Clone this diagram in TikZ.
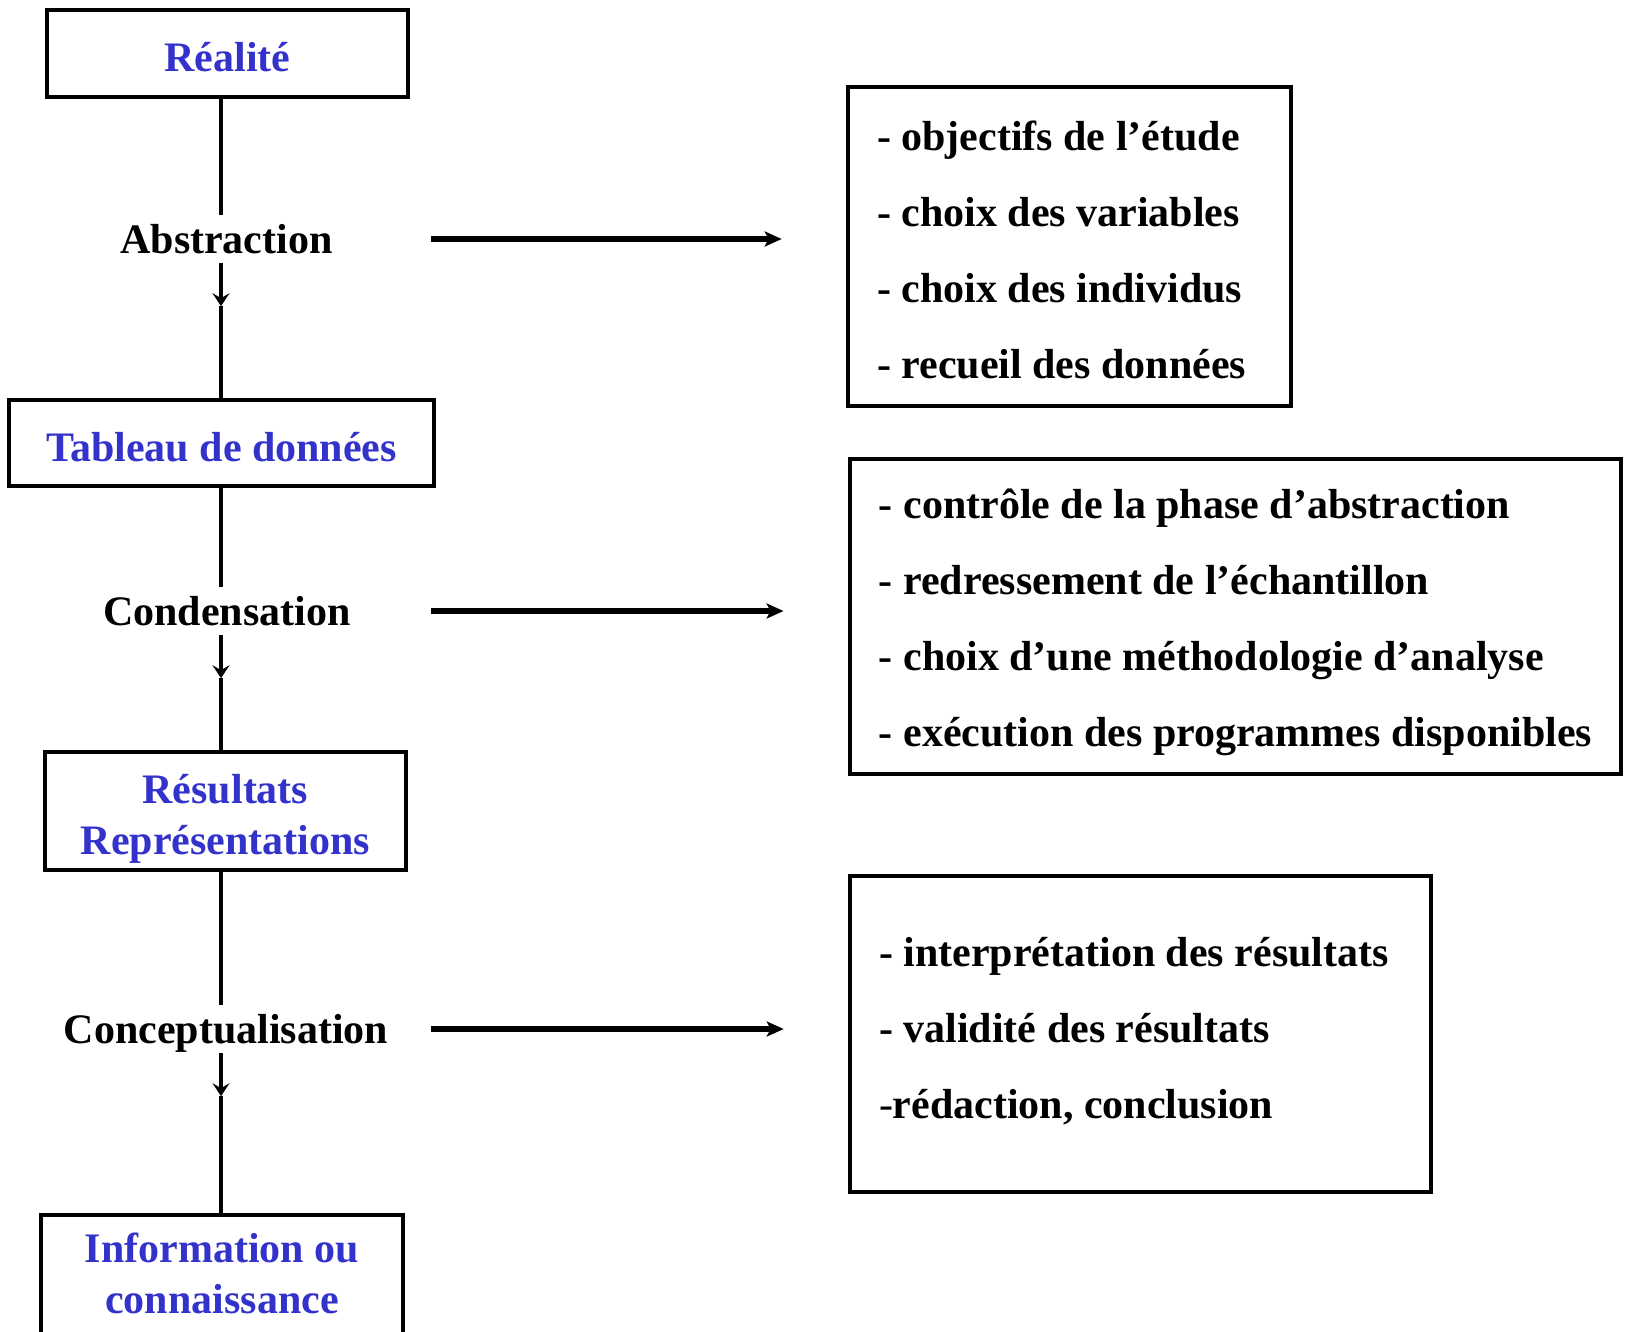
\documentclass[tikz,border=0pt]{standalone}
\usepackage{fontspec}
\setmainfont{Liberation Serif}
\usetikzlibrary{arrows.meta, positioning}
\definecolor{titleblue}{RGB}{51,51,204}

\begin{document}
\begin{tikzpicture}[
    x=1pt, y=-1pt,
    block/.style={
        rectangle,
        draw,
        line width=4.6pt,
        inner sep=4pt,
        text=titleblue,
        align=center,
        font=\bfseries\fontsize{42}{51}\selectfont
    },
    listbox/.style={
        rectangle,
        draw,
        line width=4.6pt,
        inner xsep=29pt,
        inner ysep=4pt,
        align=flush left,
        font=\bfseries\fontsize{42}{76}\selectfont
    },
    phase/.style={
        text height=28pt,
        text depth=0pt,
        inner xsep=4pt,
        inner ysep=10pt,
        font=\bfseries\fontsize{42}{51}\selectfont
    },
    link/.style={line width=4.8pt},
    flow/.style={line width=4.8pt, -{Stealth[length=13pt, width=17pt, inset=5pt]}},
    sidearrow/.style={line width=5.5pt, -{Stealth[length=17pt, width=15pt, inset=4pt]}, shorten >=64pt}
]
\useasboundingbox (0,0) rectangle (1625,1331);

% left column
\node[block, minimum width=361pt, minimum height=87pt, text height=36pt, text depth=0pt] (realite) at (227.5,53.5) {Réalité};
\node[phase] (abs) at (226.5,239) {Abstraction};
\node[block, minimum width=425pt, minimum height=86pt, text height=36pt, text depth=0pt] (tableau) at (221.5,443) {Tableau de données};
\node[phase] (cond) at (227,611) {Condensation};
\node[block, minimum width=361pt, minimum height=118pt, text height=87pt, text depth=0pt] (resultats) at (225.5,811) {Résultats\\Représentations};
\node[phase] (concept) at (226,1029) {Conceptualisation};
\node[block, minimum width=362pt, minimum height=140pt, text height=87pt, text depth=31pt] (info) at (222,1285) {Information ou\\connaissance};

% right column
\node[listbox, minimum width=443pt, minimum height=319pt, text width=385pt, text height=30pt, text depth=223pt] (objectifs) at (1069.5,246.5) {- objectifs de l’étude\\- choix des variables\\- choix des individus\\- recueil des données};
\node[listbox, minimum width=771pt, minimum height=315pt, text height=259pt, text depth=0pt] (controle) at (1235.5,616.5) {- contrôle de la phase d’abstraction\\- redressement de l’échantillon\\- choix d’une méthodologie d’analyse\\- exécution des programmes disponibles};
\node[listbox, minimum width=581pt, minimum height=316pt, text width=523pt, text height=30pt, text depth=166pt] (interp) at (1140.5,1034) {- interprétation des résultats\\- validité des résultats\\{\mdseries -}rédaction, conclusion};

\coordinate (spine) at (221,0);
\coordinate (start) at (431,0);

% vertical chain
\draw[link] (realite.south -| spine) -- (abs.north -| spine);
\path (abs.south -| spine) ++(0,43) coordinate (tip1);
\draw[flow] (abs.south -| spine) -- (tip1);
\draw[link] (tip1) -- (tableau.north -| spine);

\draw[link] (tableau.south -| spine) -- (cond.north -| spine);
\path (cond.south -| spine) ++(0,43) coordinate (tip2);
\draw[flow] (cond.south -| spine) -- (tip2);
\draw[link] (tip2) -- (resultats.north -| spine);

\draw[link] (resultats.south -| spine) -- (concept.north -| spine);
\path (concept.south -| spine) ++(0,43) coordinate (tip3);
\draw[flow] (concept.south -| spine) -- (tip3);
\draw[link] (tip3) -- (info.north -| spine);

% side arrows
\draw[sidearrow] (start |- abs) -- (objectifs.west |- abs);
\draw[sidearrow] (start |- cond) -- (controle.west |- cond);
\draw[sidearrow] (start |- concept) -- (interp.west |- concept);

\end{tikzpicture}
\end{document}
